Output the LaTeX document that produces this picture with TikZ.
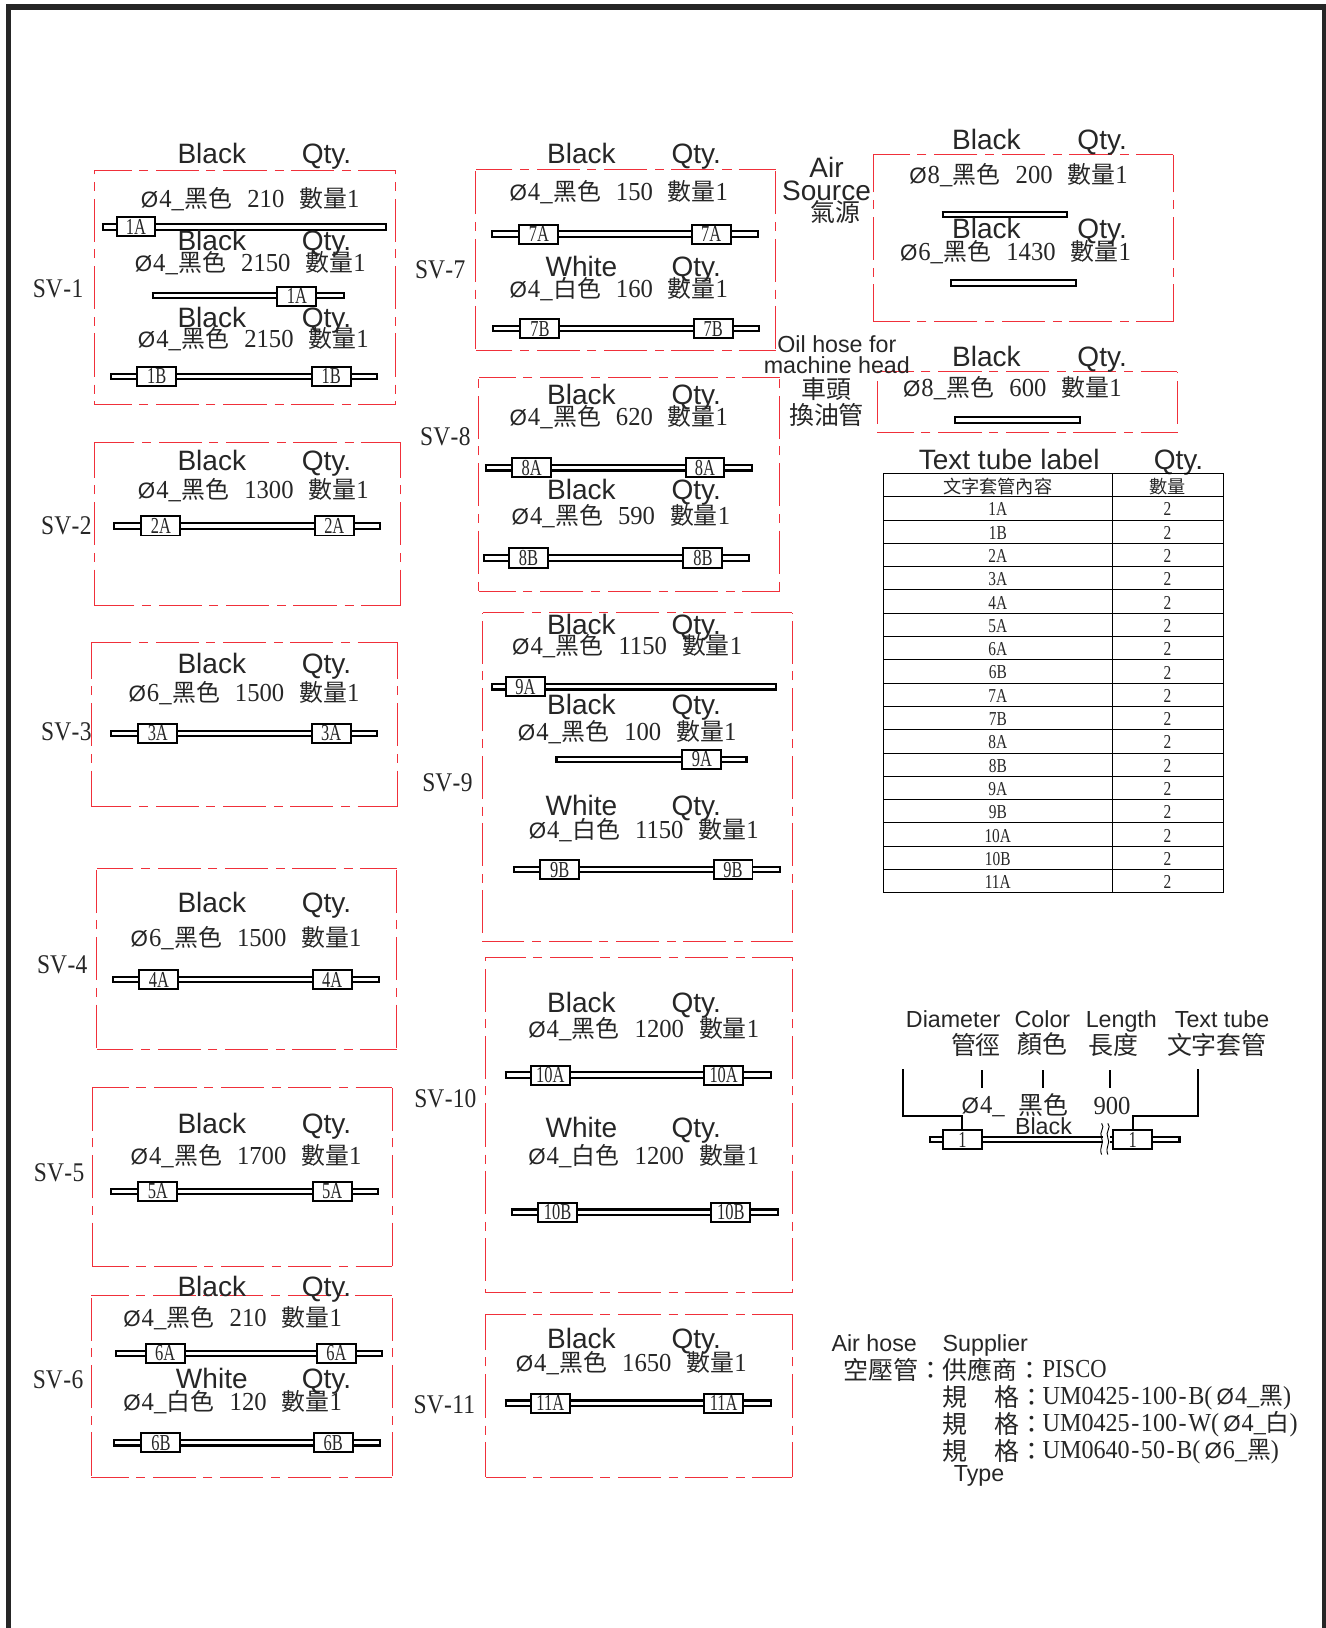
\documentclass[tikz,border=0pt]{standalone}
\usepackage{fontspec}
\setmainfont{Liberation Sans}
\newfontfamily\sera[FakeStretch=.95]{Liberation Serif}
\newfontfamily\serb[FakeStretch=.87]{Liberation Serif}
\newfontfamily\sere[FakeStretch=.93]{Liberation Serif}
\newfontfamily\serc[FakeStretch=.72]{Liberation Serif}
\newfontfamily\serd[FakeStretch=.78]{Liberation Serif}
\newfontfamily\dfont{Liberation Sans}
\newfontfamily\cjk{Noto Sans CJK TC}
\definecolor{ink}{HTML}{262626}
\definecolor{dashred}{HTML}{F0303A}
\tikzset{
  reddash/.style={draw=dashred,line width=.95pt,dash pattern=on 41.5pt off 7.7pt on 8.7pt off 7pt,dash phase=20.75pt},
  hoseout/.style={draw=black,line width=7.4pt},
  hosein/.style={draw=white,line width=3.2pt,shorten <=2pt,shorten >=2pt},
  sleevebox/.style={draw=black,fill=white,line width=1.9pt,minimum width=37.5pt,minimum height=18.5pt,inner sep=0pt,text=ink,font=\serc\fontsize{22}{22}\selectfont},
  eng/.style={inner sep=0pt,text=ink,anchor=base,yshift=-9pt,font=\fontsize{27}{27}\selectfont},
  engs/.style={inner sep=0pt,text=ink,anchor=base,yshift=-7.4pt,font=\fontsize{22.4}{22.4}\selectfont},
  specnode/.style={inner sep=0pt,text=ink,yshift=-.5pt,font=\sera\fontsize{25}{25}\selectfont},
  svlabel/.style={inner sep=0pt,text=ink,font=\serb\fontsize{26}{26}\selectfont},
  cjklabel/.style={inner sep=0pt,text=ink,font=\cjk\fontsize{24}{24}\selectfont},
  cell/.style={inner sep=0pt,text=ink,font=\serd\fontsize{19}{19}\selectfont},
  cellc/.style={inner sep=0pt,text=ink,font=\cjk\fontsize{17.5}{17.5}\selectfont},
  grid/.style={draw=black,line width=.9pt},
  thin/.style={draw=black,line width=1.9pt},
  spline/.style={inner sep=0pt,anchor=west,text=ink,font=\serb\fontsize{25}{25}\selectfont},
  codeline/.style={inner sep=0pt,anchor=west,text=ink,font=\sere\fontsize{25}{25}\selectfont},
}
\newcommand{\bx}[5]{%
  \coordinate (#1tl) at (#2,#3); \coordinate (#1tr) at (#4,#3);
  \coordinate (#1bl) at (#2,#5); \coordinate (#1br) at (#4,#5);
  \coordinate (#1t) at ($(#1tl)!.5!(#1tr)$); \coordinate (#1b) at ($(#1bl)!.5!(#1br)$);
  \coordinate (#1l) at ($(#1tl)!.5!(#1bl)$); \coordinate (#1r) at ($(#1tr)!.5!(#1br)$);
  \draw[reddash] (#1t) -- (#1tl); \draw[reddash] (#1t) -- (#1tr);
  \draw[reddash] (#1b) -- (#1bl); \draw[reddash] (#1b) -- (#1br);
  \draw[reddash] (#1l) -- (#1tl); \draw[reddash] (#1l) -- (#1bl);
  \draw[reddash] (#1r) -- (#1tr); \draw[reddash] (#1r) -- (#1br);}
\newcommand{\hose}[4]{\coordinate (#1l) at (#2,#4+.5); \coordinate (#1r) at (#3,#4+.5); \draw[hoseout] (#1l) -- (#1r); \draw[hosein] (#1l) -- (#1r);}
\newcommand{\slv}[4]{\node[sleevebox] (#1) at (#2,#3+.5) {#4};}
\newcommand{\lab}[4]{\node[eng] (#1) at (#2,#3) {#4};}
\newcommand{\dia}[1]{{\dfont\fontsize{21.5}{21.5}\selectfont Ø}\hspace{1pt}#1\_}
\newcommand{\spec}[6]{\node[specnode] (#1) at (#2,#3) {\dia{#4}\hspace{.5pt}{\cjk\fontsize{23}{23}\selectfont #5}\hspace{14.5pt}#6\hspace{14.5pt}{\cjk\fontsize{23}{23}\selectfont 數量}1};}
\newcommand{\hy}{\hspace{1.5pt}-\hspace{1.5pt}}
\newcommand{\hs}{\hspace{.4pt}-\hspace{.4pt}}
\usetikzlibrary{calc}
\begin{document}
\begin{tikzpicture}[x=1pt,y=-1pt]
\useasboundingbox (0,0) rectangle (1277,1568);
% frame
\coordinate (fa) at (8,1568); \coordinate (fb) at (8,7); \coordinate (fc) at (1276,7); \coordinate (fd) at (1276,1568);
\draw[draw=ink,line width=5.4pt] (fa) -- (fb) -- (fc) -- (fd);
% boxes
\bx{b1}{91}{164}{381}{390}
\bx{b2}{91}{426}{386}{583}
\bx{b3}{88}{619}{383}{777}
\bx{b4}{93}{836}{382}{1011}
\bx{b5}{89}{1047}{378}{1220}
\bx{b6}{88}{1248}{378}{1423}
\bx{b7}{458}{163}{747}{338}
\bx{b8}{461}{364}{751}{570}
\bx{b9}{465}{590}{763}{907}
\bx{b10}{468}{922}{763}{1245}
\bx{b11}{468}{1266}{763}{1423}
\bx{bair}{841}{149}{1130}{310}
\bx{boil}{845}{358}{1134}{417}
% SV labels
\node[svlabel] (sv1) at (56,278) {SV\hs 1};
\node[svlabel] (sv2) at (64,506) {SV\hs 2};
\node[svlabel] (sv3) at (64,705) {SV\hs 3};
\node[svlabel] (sv4) at (60,929) {SV\hs 4};
\node[svlabel] (sv5) at (57,1130) {SV\hs 5};
\node[svlabel] (sv6) at (56,1329) {SV\hs 6};
\node[svlabel] (sv7) at (424,260) {SV\hs 7};
\node[svlabel] (sv8) at (429,421) {SV\hs 8};
\node[svlabel] (sv9) at (431,754) {SV\hs 9};
\node[svlabel] (sv10) at (429,1058) {SV\hs 10};
\node[svlabel] (sv11) at (428,1353) {SV\hs 11};
% hoses
\hose{h1a}{98}{373}{218} \slv{s1a}{131}{218}{1A}
\hose{h1b}{146}{332}{284} \slv{s1b}{286}{285}{1A}
\hose{h1c}{106}{364}{362} \slv{s1c}{151}{362}{1B} \slv{s1d}{319}{362}{1B}
\hose{h2}{109}{367}{506} \slv{s2a}{155}{506}{2A} \slv{s2b}{322}{506}{2A}
\hose{h3}{106}{364}{706} \slv{s3a}{152}{706}{3A} \slv{s3b}{319}{706}{3A}
\hose{h4}{108}{366}{943} \slv{s4a}{153}{943}{4A} \slv{s4b}{320}{943}{4A}
\hose{h5}{106}{365}{1147} \slv{s5a}{152}{1147}{5A} \slv{s5b}{320}{1147}{5A}
\hose{h6a}{111}{369}{1303} \slv{s6a}{159}{1303}{6A} \slv{s6b}{324}{1303}{6A}
\hose{h6b}{109}{367}{1389} \slv{s6c}{155}{1389}{6B} \slv{s6d}{321}{1389}{6B}
\hose{h7a}{473}{731}{225} \slv{s7a}{519}{225}{7A} \slv{s7b}{685}{225}{7A}
\hose{h7b}{474}{732}{316} \slv{s7c}{520}{316}{7B} \slv{s7d}{687}{316}{7B}
\hose{h8a}{467}{725}{450} \slv{s8a}{512}{450}{8A} \slv{s8b}{679}{450}{8A}
\hose{h8b}{465}{722}{537} \slv{s8c}{509}{537}{8B} \slv{s8d}{677}{537}{8B}
\hose{h9a}{473}{748}{661} \slv{s9a}{506}{661}{9A}
\hose{h9b}{535}{720}{731} \slv{s9b}{676}{731}{9A}
\hose{h9c}{494}{752}{837} \slv{s9c}{539}{837}{9B} \slv{s9d}{706}{837}{9B}
\hose{h10a}{486}{744}{1035} \slv{s10a}{530}{1035}{10A} \slv{s10b}{697}{1035}{10A}
\hose{h10b}{492}{750}{1167} \slv{s10c}{537}{1167}{10B} \slv{s10d}{704}{1167}{10B}
\hose{h11}{486}{744}{1351} \slv{s11a}{530}{1351}{11A} \slv{s11b}{697}{1351}{11A}
\hose{ha}{907}{1029}{206}
\hose{hb}{915}{1037}{272}
\hose{hc}{919}{1041}{404}
% colour / qty labels
\lab{l1}{204}{148}{Black} \lab{q1}{314.5}{148}{Qty.}
\lab{l2}{204}{232}{Black} \lab{q2}{314.5}{232}{Qty.}
\lab{l3}{204}{306}{Black} \lab{q3}{314.5}{306}{Qty.}
\lab{l4}{204}{444}{Black} \lab{q4}{314.5}{444}{Qty.}
\lab{l5}{204}{640}{Black} \lab{q5}{314.5}{640}{Qty.}
\lab{l6}{204}{870}{Black} \lab{q6}{314.5}{870}{Qty.}
\lab{l7}{204}{1083}{Black} \lab{q7}{314.5}{1083}{Qty.}
\lab{l8}{204}{1240}{Black} \lab{q8}{314.5}{1240}{Qty.}
\lab{l9}{204}{1328}{White} \lab{q9}{314.5}{1328}{Qty.}
\lab{l10}{560}{148}{Black} \lab{q10}{670.5}{148}{Qty.}
\lab{l11}{560}{257}{White} \lab{q11}{670.5}{257}{Qty.}
\lab{l12}{560}{381}{Black} \lab{q12}{670.5}{381}{Qty.}
\lab{l13}{560}{472}{Black} \lab{q13}{670.5}{472}{Qty.}
\lab{l14}{560}{602}{Black} \lab{q14}{670.5}{602}{Qty.}
\lab{l15}{560}{679}{Black} \lab{q15}{670.5}{679}{Qty.}
\lab{l16}{560}{776}{White} \lab{q16}{670.5}{776}{Qty.}
\lab{l17}{560}{966}{Black} \lab{q17}{670.5}{966}{Qty.}
\lab{l18}{560}{1087}{White} \lab{q18}{670.5}{1087}{Qty.}
\lab{l19}{560}{1290}{Black} \lab{q19}{670.5}{1290}{Qty.}
\lab{l20}{950}{135}{Black} \lab{q20}{1061.5}{135}{Qty.}
\lab{l21}{950}{221}{Black} \lab{q21}{1061.5}{221}{Qty.}
\lab{l22}{950}{344}{Black} \lab{q22}{1061.5}{344}{Qty.}
% specs
\spec{t1}{241}{191}{4}{黑色}{210}
\spec{t2}{241}{253}{4}{黑色}{2150}
\spec{t3}{244}{326}{4}{黑色}{2150}
\spec{t4}{244}{472}{4}{黑色}{1300}
\spec{t5}{235}{667}{6}{黑色}{1500}
\spec{t6}{237}{903}{6}{黑色}{1500}
\spec{t7}{237}{1113}{4}{黑色}{1700}
\spec{t8}{224}{1269}{4}{黑色}{210}
\spec{t9}{224}{1350}{4}{白色}{120}
\spec{t10}{596}{185}{4}{黑色}{150}
\spec{t11}{596}{278}{4}{白色}{160}
\spec{t12}{596}{401}{4}{黑色}{620}
\spec{t13}{598}{497}{4}{黑色}{590}
\spec{t14}{604}{622}{4}{黑色}{1150}
\spec{t15}{604}{705}{4}{黑色}{100}
\spec{t16}{620}{799}{4}{白色}{1150}
\spec{t17}{620}{991}{4}{黑色}{1200}
\spec{t18}{620}{1113}{4}{白色}{1200}
\spec{t19}{608}{1312}{4}{黑色}{1650}
\spec{t20}{981}{168}{8}{黑色}{200}
\spec{t21}{978}{242}{6}{黑色}{1430}
\spec{t22}{975}{373}{8}{黑色}{600}
% side labels
\lab{ax1}{796}{162}{Air}
\lab{ax2}{796}{184}{Source}
\node[cjklabel] (ax3) at (805,204) {氣源};
\node[engs] (ox1) at (806,332) {Oil hose for};
\node[engs] (ox2) at (806,352) {machine head};
\node[cjklabel] (ox3) at (796,375) {車頭};
\node[cjklabel] (ox4) at (796,400) {換油管};
% table
\lab{th1}{972}{443}{Text tube label}
\lab{th2}{1135}{443}{Qty.}
\coordinate (gtl) at (851,456); \coordinate (gbr) at (1178,860);
\coordinate (gmt) at (1071,456); \coordinate (gmb) at (1071,860);
\draw[grid] (gtl) rectangle (gbr);
\draw[grid] (gmt) -- (gmb);
\foreach \i in {1,...,17}{
  \pgfmathsetmacro{\yy}{456+22.44*\i}
  \coordinate (ga\i) at (851,\yy); \coordinate (gb\i) at (1178,\yy);
  \draw[grid] (ga\i) -- (gb\i);
}
\node[cellc] (c0) at (961,468.5) {文字套管內容};
\node[cellc] (d0) at (1124.5,468.5) {數量};
\foreach \i/\t in {1/1A,2/1B,3/2A,4/3A,5/4A,6/5A,7/6A,8/6B,9/7A,10/7B,11/8A,12/8B,13/9A,14/9B,15/10A,16/10B,17/11A}{
  \pgfmathsetmacro{\yy}{456+22.44*\i+12.2}
  \node[cell] (c\i) at (961,\yy) {\t};
  \node[cell] (d\i) at (1124.5,\yy) {2};
}
% legend
\node[engs] (k1) at (918,982) {Diameter};
\node[engs] (k2) at (1004,982) {Color};
\node[engs] (k3) at (1080,982) {Length};
\node[engs] (k4) at (1177,982) {Text tube};
\node[cjklabel] (k5) at (940,1006) {管徑};
\node[cjklabel] (k6) at (1004,1006) {顏色};
\node[cjklabel] (k7) at (1072,1006) {長度};
\node[cjklabel] (k8) at (1172,1006) {文字套管};
\coordinate (e1) at (946,1031); \coordinate (e2) at (946,1048);
\coordinate (e3) at (1005,1031); \coordinate (e4) at (1005,1048);
\coordinate (e5) at (1069,1031); \coordinate (e6) at (1069,1048);
\draw[thin] (e1) -- (e2); \draw[thin] (e3) -- (e4); \draw[thin] (e5) -- (e6);
\node[specnode] (k9) at (947,1065) {\dia{4}};
\node[cjklabel] (k10) at (1005,1064) {黑色};
\node[specnode] (k11) at (1071,1065) {900};
\node[engs] (k12) at (1005,1085) {Black};
\hose{hl}{895}{1137}{1097}
\node[draw=none,fill=white,minimum width=7pt,minimum height=9pt,inner sep=0pt] (gap) at (1066,1097.5) {};
\draw[black,line width=.9pt] (1061,1082) .. controls (1065,1086) and (1058,1090) .. (1061,1096) .. controls (1064,1101) and (1058,1105) .. (1061,1112);
\draw[black,line width=.9pt] (1067,1082) .. controls (1071,1086) and (1064,1090) .. (1067,1096) .. controls (1070,1101) and (1064,1105) .. (1067,1112);
\slv{ls1}{927}{1097}{1}
\slv{ls2}{1091}{1097}{1}
\coordinate (m1) at (870,1030); \coordinate (m2) at (870,1075); \coordinate (m3) at (927,1075);
\coordinate (m4) at (1154,1030); \coordinate (m5) at (1154,1075); \coordinate (m6) at (1091,1075);
\draw[thin] (m1) -- (m2) -- (m3) -- (ls1.north);
\draw[thin] (m4) -- (m5) -- (m6) -- (ls2.north);
% bottom notes
\node[engs] (n1) at (842,1294) {Air hose};
\node[engs] (n2) at (949,1294) {Supplier};
\node[cjklabel,anchor=west] (n3) at (812,1319) {空壓管：供應商：};
\node[spline] (n4) at (1004,1319) {PISCO};
\foreach \yy/\code/\d/\c/\nm in {1346/UM0425\hy 100\hy B/4/黑/a,1372/UM0425\hy 100\hy W/4/白/b,1398/UM0640\hy 50\hy B/6/黑/c}{
  \node[cjklabel,anchor=west] (p\nm) at (908,\yy) {規\hspace{26pt}格：};
  \node[codeline] (r\nm) at (1004,\yy) {\code(\hspace{4pt}\dia{\d}{\cjk\fontsize{23}{23}\selectfont\c})};
}
\node[engs] (n5) at (943,1419) {Type};
\end{tikzpicture}
\end{document}
